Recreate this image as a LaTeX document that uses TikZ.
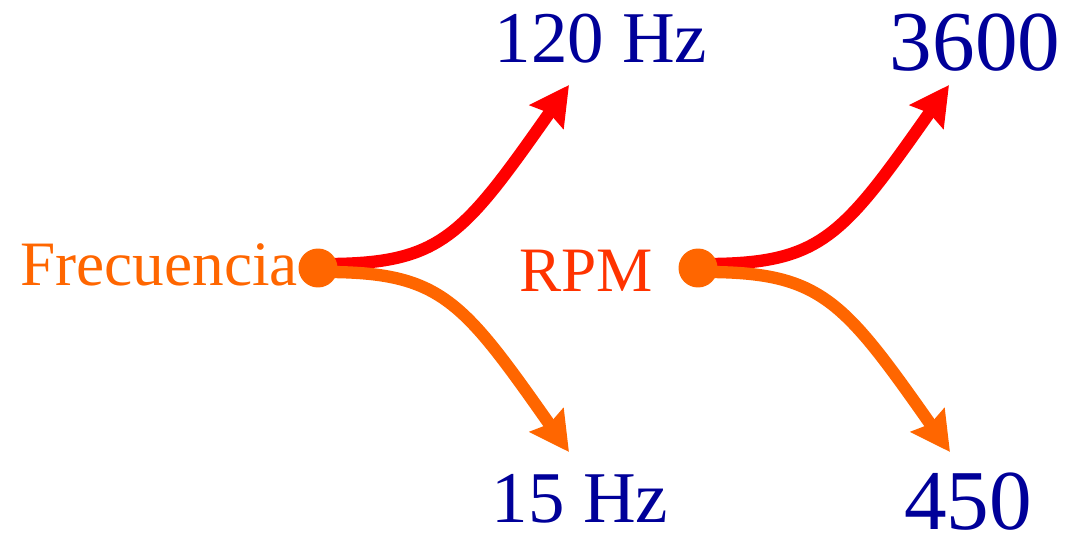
\documentclass[tikz,border=0pt]{standalone}
\usepackage{fontspec}
\setmainfont{Liberation Serif}
\usetikzlibrary{arrows.meta,calc,backgrounds}
\definecolor{cOrange}{HTML}{FF6600}
\definecolor{cRpm}{HTML}{FF3300}
\definecolor{cBlue}{HTML}{000099}
\definecolor{cRed}{HTML}{FF0000}
\tikzset{
  dot/.style={circle,fill=cOrange,inner sep=0pt,minimum size=0.78cm},
  srclabel/.style={anchor=base,inner sep=0pt,font=\fontsize{36}{40}\selectfont},
  hzlabel/.style={anchor=base,inner sep=0pt,text=cBlue,font=\fontsize{41.5}{46}\selectfont},
  numlabel/.style={anchor=base,inner sep=0pt,text=cBlue,font=\fontsize{48.5}{54}\selectfont},
  flow/.style={line width=7pt,-{Stealth[length=22pt,width=23pt,inset=2.5pt]}},
  upflow/.style={flow,draw=cRed},
  downflow/.style={flow,draw=cOrange},
}
\begin{document}
\begin{tikzpicture}[x=0.02cm,y=-0.02cm]
\useasboundingbox (0,0) rectangle (1067,533);
% labels
\node[srclabel,text=cOrange] (frec) at (159,285) {Frecuencia};
\node[srclabel,text=cRpm] (rpm) at (586,292) {RPM};
\node[hzlabel] (hz120) at (601,63) {120 Hz};
\node[hzlabel] (hz15) at (580,522) {15 Hz};
\node[numlabel] (n3600) at (975,71) {3600};
\node[numlabel] (n450) at (968,529) {450};
% dots
\node[dot] (d1) at (318,268) {};
\node[dot] (d2) at (698,268) {};
% arrow tips
\coordinate (t1) at (569,85);
\coordinate (t2) at (569,452);
\coordinate (t3) at (949,85);
\coordinate (t4) at (950,452);
\begin{scope}[on background layer]
\draw[upflow] ($(d1.center)+(0,-4)$) .. controls ($(d1.center)+(122,-3)$) and ($(t1)+(-109,155)$) .. (t1);
\draw[downflow] ($(d1.center)+(0,4)$) .. controls ($(d1.center)+(122,3)$) and ($(t2)+(-109,-155)$) .. (t2);
\draw[upflow] ($(d2.center)+(0,-4)$) .. controls ($(d2.center)+(122,-3)$) and ($(t3)+(-109,155)$) .. (t3);
\draw[downflow] ($(d2.center)+(0,4)$) .. controls ($(d2.center)+(122,3)$) and ($(t4)+(-109,-155)$) .. (t4);
\end{scope}
\end{tikzpicture}
\end{document}
